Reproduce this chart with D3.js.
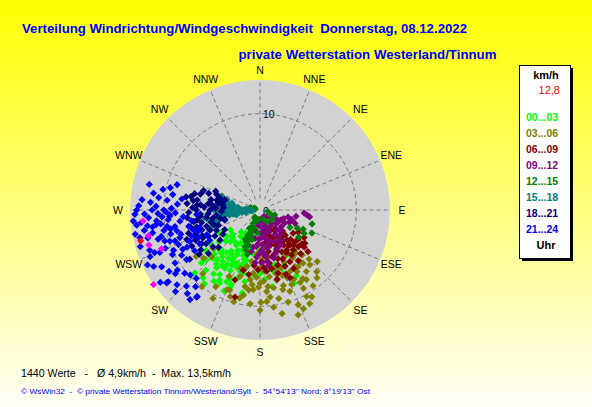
<!DOCTYPE html>
<html>
<head>
<meta charset="utf-8">
<script src="https://cdn.jsdelivr.net/npm/d3@7"></script>
<style>
  body { margin: 0; padding: 0; overflow: hidden; }
  text { font-family: "Liberation Sans", Arial, sans-serif; }
</style>
</head>
<body>
<div class="mainDiv"></div>
<script>
// compass labels, clockwise from north
const compass = ["N","NNE","NE","ENE","E","ESE","SE","SSE","S","SSW","SW","WSW","W","WNW","NW","NNW"];
const ringTicks = [10];
const maxSpeed = 13.5;

const timeLabels = ["00...03","03...06","06...09","09...12","12...15","15...18","18...21","21...24"];
const colors = ["#00FF00","#808000","#800000","#800080","#008000","#008080","#000080","#0000FF"];

// [direction deg, speed km/h]
const h00 = [[223,4.5],[214,4.4],[224,5.75],[224,7.0],[227,7.6],[217,7.5],[211,7.06],[212,7.9],[204,7.75],[198,6.7],[209,5.7],[200,5.0],[201,3.9],[201,8.6],[220,9.2],[216,8.2],[210,8.4],[201,8.3],[202,6.4],[180,6.6],[171,8.05],[151,7.8],[156,6.3],[146,5.6],[182.5,4.0],[165,5.9],[236,3.7],[225,5.9],[209,8.7],[195,5.4],[189,4.6],[207,6.4],
  [215,5.2],[219,6.2],[221,6.8],[213,6.0],[207,5.2],[204,4.6],[210,4.0],[218,4.2],[228,4.8],[230,6.2],[232,5.4],[226,6.6],[219,7.2],[214,7.0],[206,7.0],[203,6.0],[197,5.8],[195,6.8],[192,7.6],[198,7.4],[205,8.2],[213,8.8],[222,8.4],[228,8.2],[233,7.0],[236,6.2],[229,3.8],[216,3.4],[206,3.4],[196,4.2],[188,5.6],[185,6.8],[176,7.2],[160,7.0],[168,6.4],[155,8.4],[226,9.4],[217,9.6],[204,9.2],[192,8.8],[240,4.8],[212,2.8],
  [220,3.0],[225,4.0],[231,4.4],[209,4.8],[213,5.4],[218,5.6],[222,6.0],[208,6.0],[211,6.6],[216,6.6],[200,6.2],[194,6.2],[198,5.4]];
const h03 = [[196,9.9],[191,9.0],[179.4,9.6],[175.8,9.55],[173.4,9.1],[184.8,8.3],[181,8.0],[156.2,11.2],[151.7,10.2],[151,9.3],[159.8,9.0],[162.7,8.2],[146.3,8.7],[137.4,8.7],[137.7,7.7],[146,7.1],[188,7.3],[196.7,7.2],[200.6,8.9],[191,8.1],[175.3,8.5],[166.6,7.5],[154,7.1],[180,6.05],[186,6.6],[142.3,6.8],[137,6.4],[141,7.1],[148.3,6.9],[149,7.45],[229.6,7.7],[230.6,6.3],[202.6,9.0],[199,9.5],[217.2,10.0],[149.2,10.5],
  [178,5.2],[184,4.6],[170,5.0],[165,6.2],[172,7.0],[160,6.4],[155,6.0],[150,5.4],[145,6.0],[140,5.8],[135,7.2],[143,8.0],[148,8.4],[154,8.0],[158,7.6],[164,8.6],[168,9.4],[170,8.2],[177,7.4],[183,7.0],[188,8.4],[193,9.4],[186,9.8],[180,10.4],[172,10.2],[163,10.0],[158,10.6],[152,11.0],[145,9.6],[140,9.2],[132,8.0],[205,7.6],[210,9.2],[198,6.4],[193,6.0],[189,5.4],[175,4.0],[162,4.8],[208,10.4],[222,8.9],[226,7.0],[234,8.2],[160,11.6],[168,11.0],
  [176,6.4],[170,6.0],[166,6.8],[180,7.6],[186,7.8],[174,8.0],[161,7.2],[157,8.4],[151,8.6]];
const h06 = [[164.7,2.0],[140.7,2.5],[135,3.7],[132,4.9],[126.5,5.8],[133.8,5.5],[141,4.7],[150,3.8],[157.5,3.2],[152.5,4.9],[144.8,5.7],[168.7,4.4],[178,5.4],[168.7,6.2],[156,6.4],[195.5,6.5],[196,9.4],[164,6.8],[156,7.7],[199.7,7.7],[173.8,6.4],
  [125,4.2],[128,5.0],[130,6.0],[122,5.4],[137,6.2],[140,5.4],[146,4.4],[148,5.2],[150,6.2],[155,5.6],[158,4.6],[160,5.4],[162,6.0],[165,5.0],[170,5.6],[174,4.8],[176,6.0],[163,3.8],[170,3.4],[160,2.8],[148,3.2],[142,3.6],[138,4.2],[133,3.2],[145,2.6],[154,2.4],[136,5.0],[143,6.6],[150,7.0],[182,6.2],[186,5.8],[190,6.8],[158,7.2],[166,7.4],[131,6.6],[120,4.6],
  [144,4.0],[139,4.8],[134,4.4],[152,4.2],[156,4.0],[129,5.6],[146,5.0]];
const h09 = [[153,0.8],[158,1.9],[176,2.4],[183,3.5],[180,4.5],[178,5.5],[139,1.8],[123,2.25],[118,2.9],[107,3.45],[111,3.9],[96,4.9],[140,2.7],[141,3.3],[167,3.2],[167,3.9],[172,4.9],[190,3.0],[190,3.9],[184,4.9],[159,2.4],[128,2.8],[170,4.0],[161,4.8],[171,5.8],[172,5.4],
  [98,5.2],[94,4.6],[113,3.3],[104,3.0],[115,2.4],[130,2.2],[135,3.0],[146,2.0],[150,3.0],[162,1.5],[170,1.2],[175,1.8],[186,1.6],[188,2.3],[182,3.0],[176,3.6],[172,2.8],[165,2.4],[155,3.6],[150,4.2],[145,3.8],[178,4.2],[185,5.5],[195,2.2],[126,1.4],[140,1.0],[192,4.4],[162,3.4],[157,4.4],[164,5.2],
  [180,1.0],[168,2.0],[178,2.9],[186,3.8],[174,4.6],[120,2.0],[110,2.6],[100,3.8]];
const h12 = [[217,0.9],[207,1.55],[203,2.25],[203,2.6],[201,3.3],[202,4.1],[116,4.3],[114,5.9],[125,4.9],[114,4.9],[108,1.6],[112,1.2],[130,1.6],
  [275,0.8],[280,0.5],[285,1.0],[290,0.6],[200,1.2],[205,1.9],[198,2.0],[206,2.9],[199,2.8],[204,3.6],[198,3.8],[207,3.4],[200,4.4],[196,4.8],[210,2.2],[195,3.2],[120,3.6],[118,5.2],[105,5.6],[100,0.8],[160,1.0],[150,1.4],[190,1.0],[186,2.4],[212,1.0],
  [278,1.1],[283,0.7]];
const h15 = [[282,3.4],[274,2.8],[265,2.1],[263,1.4],[270,0.9],[263,4.2],[259.5,4.75],[275,4.2],[258,2.5],[260.5,3.2],[287,3.6],[260,6.9],[255,4.7],
  [268,1.2],[266,1.6],[262,1.9],[268,2.4],[264,2.6],[261,2.8],[270,3.0],[266,3.3],[262,3.6],[268,3.8],[272,3.4],[258,3.9],[256,4.4],[261,4.6],[265,4.4],[278,3.8],[284,3.0],[280,2.8],[276,3.2],[272,2.2],[272,1.6],[260,1.5],[264,0.8],[258,5.4],[252,5.2],[270,4.8],[276,4.6],[290,4.2],[262,5.8],
  [275,1.4],[271,1.9],[277,2.3],[269,2.7],[274,3.0],[279,3.3],[266,1.0],[262,2.3],[267,4.1],[281,4.0],[285,4.4]];
const h18 = [[281,7.3],[275,6.2],[277,5.4],[283,4.6],[278,3.9],[264,6.3],[253,5.8],[245,5.0],[233,5.2],[232,6.2],[242,8.0],[235,8.9],[258,4.2],[255,3.8],
  [285,6.4],[288,5.6],[290,4.8],[286,3.8],[282,4.0],[279,4.4],[276,5.0],[273,5.8],[270,6.6],[268,7.4],[272,7.0],[279,6.6],[284,7.0],[266,5.4],[263,4.6],[268,4.0],[272,4.6],[274,3.8],[262,5.6],[258,6.2],[255,6.8],[260,7.0],[264,7.6],[256,5.2],[250,4.6],[248,5.6],[251,6.4],[246,6.6],[243,6.0],[240,5.4],[238,6.6],[236,7.4],[240,7.0],[245,7.4],[248,8.2],[252,7.8],[256,7.4],[237,4.6],[241,4.2],[228,5.8],[230,7.0],[234,7.8],[254,3.8],[293,5.0],[289,6.2],[280,7.8],[275,7.6],
  [270,5.2],[266,6.2],[261,6.6],[253,6.9],[249,7.2],[244,6.6],[287,4.4],[282,5.2],[274,6.6],[278,7.0],[260,5.0],[252,5.0]];
const h21 = [[287,9.0],[279,11.2],[282,10.3],[275,12.3],[270,11.2],[276,9.7],[265,13.2],[262,10.9],[266,9.4],[251,8.8],[243,8.5],[245,9.9],[247,11.3],[247,12.4],[242,12.5],[240,11.8],[234,10.6],[227,9.9],[223,9.7],[224,11.0],[216,11.1],[232,12.1],[254,6.5],[245,6.1],[239,6.1],[259,13.2],[244,13.0],[221,11.5],[232,12.3],[216,11.2],
  [268,12.0],[266,11.6],[264,12.4],[262,11.8],[260,12.2],[258,11.4],[256,12.0],[254,11.0],[252,10.4],[255,9.6],[258,10.2],[260,9.8],[262,10.4],[264,10.8],[266,10.2],[268,10.6],[270,10.0],[272,10.8],[274,11.4],[272,12.6],[270,12.8],[268,13.0],[263,12.9],[257,12.8],[250,12.2],[248,10.6],[250,9.4],[253,8.6],[256,8.9],[259,9.0],[262,8.4],[265,8.0],[268,8.8],[271,9.2],[274,8.6],[278,8.2],[280,9.2],[284,9.6],[283,11.8],[277,10.6],[257,7.6],[253,7.2],[249,7.6],[246,7.0],[241,7.2],[238,8.0],[236,9.2],[238,10.4],[236,11.4],[233,11.0],[230,10.2],[228,11.6],[234,12.8],[226,12.2],[220,10.4],[218,11.8],[243,10.2],[240,9.4],[246,8.0],[251,6.8],[261,7.2],[266,6.6],[248,11.8],[253,13.0],[261,11.3],[267,9.4],
  [255,10.6],[251,9.9],[247,9.2],[243,9.0],[258,9.5],[264,9.6],[269,9.8]];
const series = [h00, h03, h06, h09, h12, h15, h18, h21];

const peakPoints = [[264.6,12.2],[257,11.9],[248.5,11.0],[252.5,12.1],[235,13.5]];
const lastPoint = [[255.5,12.8]];
const lastValue = "12,8";

const title1 = "Verteilung Windrichtung/Windgeschwindigkeit  Donnerstag, 08.12.2022";
const title2 = "private Wetterstation Westerland/Tinnum";
const statText = "1440 Werte   -   \u00D8 4,9km/h  -  Max. 13,5km/h";
const footText = "\u00A9 WsWin32  -  \u00A9 private Wetterstation Tinnum/Westerland/Sylt  -  54\u00B054'13'' Nord; 8\u00B019'13'' Ost";

const width = 592, height = 407;
const cx = 260, cy = 210, R = 130;

const svg = d3.select('.mainDiv').append('svg')
  .attr('width', width).attr('height', height);

// background gradient
const grad = svg.append('defs').append('linearGradient')
  .attr('id', 'bg').attr('x1', 0).attr('y1', 0).attr('x2', 0).attr('y2', 1);
grad.append('stop').attr('offset', '0%').attr('stop-color', '#FFFF00');
grad.append('stop').attr('offset', '100%').attr('stop-color', '#FFFFF6');
svg.append('rect').attr('width', width).attr('height', height).attr('fill', 'url(#bg)');

// titles
svg.append('text').attr('x', 22).attr('y', 33)
  .attr('font-size', 13.3).attr('font-weight', 'bold').attr('fill', '#0000FF')
  .attr('textLength', 445).attr('lengthAdjust', 'spacingAndGlyphs')
  .style('white-space', 'pre').text(title1);
svg.append('text').attr('x', 238.5).attr('y', 59)
  .attr('font-size', 13.3).attr('font-weight', 'bold').attr('fill', '#0000FF')
  .attr('textLength', 258).attr('lengthAdjust', 'spacingAndGlyphs')
  .text(title2);

const rScale = d3.scaleLinear().domain([0, maxSpeed]).range([0, R]);
const aScale = d3.scaleLinear().domain([0, 360]).range([0, 2 * Math.PI]);
const pos = d => d3.pointRadial(aScale(d[0]), rScale(d[1]));

const plot = svg.append('g').attr('transform', `translate(${cx},${cy})`);

plot.append('circle').attr('r', R).attr('fill', '#D2D2D2');

// spokes
plot.selectAll('line.spoke')
  .data(compass)
  .join('line')
  .attr('class', 'spoke')
  .attr('x1', (d, i) => pos([i * 22.5, 1.2])[0])
  .attr('y1', (d, i) => pos([i * 22.5, 1.2])[1])
  .attr('x2', (d, i) => pos([i * 22.5, maxSpeed])[0])
  .attr('y2', (d, i) => pos([i * 22.5, maxSpeed])[1])
  .attr('stroke', '#7a7a7a').attr('stroke-width', 1)
  .attr('stroke-dasharray', '4,3');

// speed ring
plot.selectAll('circle.ring')
  .data(ringTicks)
  .join('circle')
  .attr('class', 'ring')
  .attr('r', d => rScale(d))
  .attr('fill', 'none')
  .attr('stroke', '#7a7a7a').attr('stroke-dasharray', '4,3');

plot.selectAll('text.ringLabel')
  .data(ringTicks)
  .join('text')
  .attr('class', 'ringLabel')
  .attr('x', 3).attr('y', d => -rScale(d) + 4)
  .attr('font-size', 10.5).attr('fill', '#000')
  .text(d => d);

plot.append('text').attr('x', 3).attr('y', 4.5)
  .attr('font-size', 10.5).attr('fill', '#000').text('0');

// compass labels
plot.selectAll('text.dir')
  .data(compass)
  .join('text')
  .attr('class', 'dir')
  .attr('x', (d, i) => d3.pointRadial(aScale(i * 22.5), 142)[0])
  .attr('y', (d, i) => d3.pointRadial(aScale(i * 22.5), i == 0 ? 140 : 142)[1])
  .attr('dy', '0.36em')
  .attr('text-anchor', 'middle')
  .attr('font-size', 10.5).attr('fill', '#000')
  .text(d => d);

// points
const diamond = 'M0,-3.6L3.6,0L0,3.6L-3.6,0Z';
series.forEach((s, k) => {
  plot.append('g').selectAll('path')
    .data(s)
    .join('path')
    .attr('d', diamond)
    .attr('transform', d => `translate(${pos(d)[0]},${pos(d)[1]})`)
    .attr('fill', colors[k]);
});
plot.append('g').selectAll('path')
  .data(peakPoints)
  .join('path')
  .attr('d', diamond)
  .attr('transform', d => `translate(${pos(d)[0]},${pos(d)[1]})`)
  .attr('fill', '#FF00FF');
plot.append('g').selectAll('path')
  .data(lastPoint)
  .join('path')
  .attr('d', diamond)
  .attr('transform', d => `translate(${pos(d)[0]},${pos(d)[1]})`)
  .attr('fill', '#FF0000');

// legend box
const legend = svg.append('g');
legend.append('rect').attr('x', 522).attr('y', 68).attr('width', 51).attr('height', 193).attr('fill', '#000');
legend.append('rect').attr('x', 519.5).attr('y', 65.5).attr('width', 51).attr('height', 193)
  .attr('fill', '#fff').attr('stroke', '#000').attr('stroke-width', 1);
legend.append('text').attr('x', 546).attr('y', 79).attr('text-anchor', 'middle')
  .attr('font-size', 11).attr('font-weight', 'bold').attr('fill', '#000').text('km/h');
legend.append('text').attr('x', 560).attr('y', 94).attr('text-anchor', 'end')
  .attr('font-size', 11).attr('fill', '#FF0000').text(lastValue);
legend.selectAll('text.time')
  .data(timeLabels)
  .join('text')
  .attr('class', 'time')
  .attr('x', 526).attr('y', (d, i) => 121 + i * 16)
  .attr('font-size', 10.5).attr('font-weight', 'bold')
  .attr('fill', (d, i) => colors[i])
  .text(d => d);
legend.append('text').attr('x', 546).attr('y', 249).attr('text-anchor', 'middle')
  .attr('font-size', 11).attr('font-weight', 'bold').attr('fill', '#000').text('Uhr');

// bottom texts
svg.append('text').attr('x', 21).attr('y', 377)
  .attr('font-size', 11).attr('fill', '#000')
  .attr('textLength', 210).attr('lengthAdjust', 'spacingAndGlyphs')
  .style('white-space', 'pre').text(statText);
svg.append('text').attr('x', 21).attr('y', 394)
  .attr('font-size', 8).attr('fill', '#0000FF')
  .attr('textLength', 349).attr('lengthAdjust', 'spacingAndGlyphs')
  .style('white-space', 'pre').text(footText);
</script>
</body>
</html>
